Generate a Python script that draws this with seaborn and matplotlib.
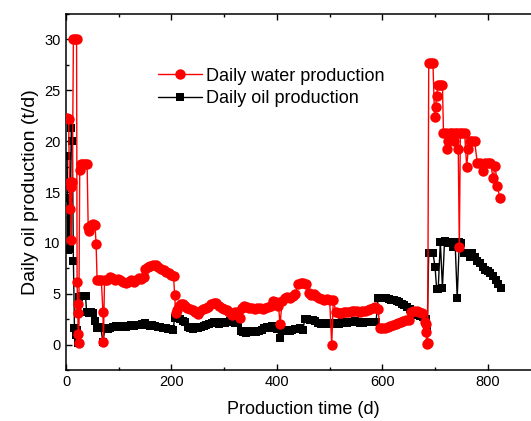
import matplotlib
matplotlib.use("Agg")
import matplotlib.pyplot as plt
import seaborn as sns
import pandas as pd
from matplotlib.ticker import MultipleLocator

# ---- data ----
water_days = [2, 5, 7, 8, 9, 10, 12, 14, 17, 20, 21, 22, 22.5, 23, 24, 26, 28, 32, 36, 40,
              42, 44, 47, 51, 55, 57, 59, 63, 67, 70, 71, 73, 78, 83, 88, 93, 98, 103, 108,
              113, 118, 123, 128, 133, 138, 143, 148, 150, 155, 160, 165, 170, 175, 180, 185,
              190, 195, 200, 204, 206, 208, 210, 214, 218, 222, 226, 230, 235, 240, 245, 250,
              255, 260, 265, 270, 275, 280, 285, 290, 295, 300, 305, 310, 315, 321, 326, 330,
              334, 338, 343, 348, 353, 358, 363, 368, 373, 378, 383, 388, 393, 398, 403, 406,
              410, 415, 420, 425, 430, 435, 440, 445, 450, 455, 460, 465, 470, 475, 480, 485,
              490, 495, 500, 504, 507, 512, 517, 522, 527, 532, 537, 542, 547, 552, 557, 562,
              567, 572, 577, 582, 587, 592, 595, 600, 605, 610, 615, 620, 625, 630, 635, 640,
              645, 650, 655, 660, 665, 670, 675, 680, 682, 683, 684, 686, 688, 692, 696, 699,
              701, 703, 705, 710, 714, 716, 720, 722, 724, 728, 732, 735, 738, 742, 744, 746,
              748, 752, 756, 760, 763, 766, 770, 775, 780, 785, 790, 795, 800, 805, 810, 814,
              818, 823]
water_vals = [22.3, 22.2, 13.3, 16.0, 15.5, 10.3, 16.0, 30.0, 30.0, 30.0, 6.2, 3.1, 4.0, 1.0,
              0.2, 17.2, 17.8, 17.8, 17.8, 17.8, 11.6, 11.2, 11.8, 11.9, 11.8, 9.9, 6.3, 6.3,
              6.3, 3.2, 0.3, 6.3, 6.3, 6.6, 6.5, 6.3, 6.4, 6.3, 6.2, 6.1, 6.2, 6.3, 6.2, 6.3,
              6.5, 6.4, 6.6, 7.4, 7.6, 7.7, 7.8, 7.8, 7.6, 7.4, 7.3, 7.1, 7.0, 6.8, 6.7, 4.9,
              3.1, 3.4, 3.8, 4.0, 4.0, 3.8, 3.6, 3.5, 3.4, 3.2, 3.0, 3.3, 3.5, 3.6, 3.7, 4.0,
              4.1, 4.1, 3.8, 3.6, 3.5, 3.4, 3.2, 2.9, 3.2, 3.2, 2.6, 3.6, 3.8, 3.7, 3.6, 3.6,
              3.5, 3.6, 3.6, 3.5, 3.6, 3.7, 3.8, 4.3, 4.2, 3.8, 2.0, 4.3, 4.6, 4.7, 4.6, 4.8,
              5.0, 6.0, 6.1, 6.1, 6.0, 5.1, 4.9, 5.0, 4.8, 4.6, 4.5, 4.4, 4.5, 4.4, 0.0, 4.4,
              3.2, 3.1, 3.1, 3.2, 3.2, 3.2, 3.3, 3.3, 3.3, 3.2, 3.3, 3.3, 3.4, 3.5, 3.6, 3.7,
              3.5, 1.6, 1.6, 1.6, 1.7, 1.8, 1.9, 2.0, 2.1, 2.2, 2.3, 2.4, 2.4, 3.2, 3.3, 3.3,
              3.2, 3.1, 2.2, 2.0, 1.2, 0.1, 0.2, 27.7, 27.7, 27.7, 22.4, 23.4, 24.4, 25.5, 25.5,
              25.5, 20.8, 20.8, 19.2, 20.0, 20.8, 20.8, 20.0, 20.8, 20.8, 19.2, 9.6, 20.8, 20.8,
              20.8, 17.5, 19.2, 20.0, 20.0, 20.0, 17.9, 17.9, 17.1, 17.9, 17.9, 17.9, 16.4,
              17.6, 15.6, 14.4]

oil_days = [2, 4, 5, 7, 10, 12, 14, 16, 18, 21, 23, 25, 29, 33, 37, 39, 43, 47, 51, 55, 58,
            62, 66, 70, 74, 79, 84, 89, 94, 99, 104, 109, 114, 119, 124, 129, 134, 139, 144,
            149, 154, 159, 164, 169, 174, 179, 184, 189, 194, 199, 203, 206, 211, 216, 221,
            226, 231, 236, 241, 246, 251, 256, 261, 266, 271, 276, 281, 286, 291, 296, 301,
            306, 311, 316, 321, 326, 331, 336, 341, 346, 351, 356, 361, 366, 371, 376, 381,
            386, 391, 396, 401, 405, 409, 414, 419, 424, 429, 434, 439, 444, 449, 453, 458,
            463, 468, 473, 478, 483, 488, 493, 498, 503, 508, 513, 518, 523, 528, 533, 538,
            543, 548, 553, 558, 563, 568, 573, 578, 583, 588, 592, 597, 602, 607, 612, 617,
            622, 627, 632, 637, 642, 647, 652, 657, 662, 667, 672, 677, 682, 685, 688, 692,
            696, 700, 703, 706, 710, 714, 718, 722, 726, 730, 734, 738, 742, 746, 750, 754,
            758, 762, 766, 770, 775, 780, 785, 790, 795, 800, 805, 810, 815, 820, 825]
oil_vals = [18.5, 9.3, 14.4, 9.4, 21.3, 20.0, 8.2, 1.6, 0.9, 1.4, 0.2, 4.7, 4.8, 4.8, 4.8,
            3.2, 3.1, 3.2, 3.1, 2.3, 1.6, 1.7, 1.6, 0.3, 1.6, 1.5, 1.6, 1.7, 1.8, 1.7, 1.8,
            1.8, 1.7, 1.8, 1.9, 1.8, 1.9, 1.9, 2.0, 2.1, 1.9, 1.8, 1.9, 1.8, 1.7, 1.7, 1.6,
            1.6, 1.5, 1.5, 1.4, 2.6, 2.6, 2.5, 2.3, 2.2, 1.7, 1.6, 1.5, 1.7, 1.6, 1.7, 1.8,
            1.9, 2.0, 2.1, 2.2, 2.1, 2.0, 2.2, 2.1, 2.2, 2.3, 2.2, 2.1, 2.1, 1.3, 1.2, 1.1,
            1.3, 1.2, 1.3, 1.2, 1.3, 1.4, 1.6, 1.7, 1.6, 1.8, 1.7, 1.5, 0.6, 1.3, 1.3, 1.4,
            1.3, 1.4, 1.5, 1.5, 1.6, 1.4, 2.5, 2.5, 2.4, 2.4, 2.3, 2.1, 2.0, 2.0, 2.1, 2.0,
            2.0, 2.1, 2.1, 2.0, 2.2, 2.2, 2.1, 2.2, 2.2, 2.3, 2.2, 2.1, 2.1, 2.2, 2.2, 2.2,
            2.2, 2.2, 4.6, 4.6, 4.6, 4.6, 4.5, 4.4, 4.4, 4.3, 4.2, 4.0, 3.9, 3.7, 3.5, 3.0,
            2.9, 2.9, 2.8, 2.7, 2.5, 1.7, 9.0, 9.0, 9.0, 7.6, 5.5, 5.5, 10.1, 5.6, 10.2, 10.1,
            10.0, 10.1, 9.6, 10.1, 4.6, 10.1, 10.0, 9.0, 9.0, 9.0, 8.6, 9.0, 8.6, 8.2, 8.0,
            7.6, 7.3, 7.2, 7.0, 6.7, 6.3, 6.0, 5.6]

water_label = "Daily water production"
oil_label = "Daily oil production"
x_label = "Production time (d)"
y_label = "Daily oil production (t/d)"

water_df = pd.DataFrame({"day": water_days, "value": water_vals})
oil_df = pd.DataFrame({"day": oil_days, "value": oil_vals})

sns.set_theme(style="ticks")
plt.rcParams["font.family"] = ["Liberation Sans", "DejaVu Sans"]
plt.rcParams["text.color"] = "black"
plt.rcParams["axes.labelcolor"] = "black"

fig = plt.figure(figsize=(5.31, 4.21), dpi=100)
# axes extend past the right edge of the picture, as in the reference
ax = fig.add_axes([65.5 / 531, 51 / 421, 475 / 531, 356 / 421])

sns.lineplot(data=oil_df, x="day", y="value", ax=ax, sort=False, estimator=None,
             color="black", marker="s", markersize=6, markeredgewidth=0,
             linewidth=1.0, label=oil_label, zorder=2)
sns.lineplot(data=water_df, x="day", y="value", ax=ax, sort=False, estimator=None,
             color="red", marker="o", markersize=7.5, markeredgewidth=0,
             linewidth=1.0, label=water_label, zorder=3)

ax.set_xlim(-1, 900)
ax.set_ylim(-2.5, 32.5)
ax.xaxis.set_major_locator(MultipleLocator(200))
ax.xaxis.set_minor_locator(MultipleLocator(100))
ax.yaxis.set_major_locator(MultipleLocator(5))
ax.yaxis.set_minor_locator(MultipleLocator(2.5))
ax.tick_params(which="both", direction="in", top=True, right=True, labelsize=10.5,
               colors="black", width=1)
ax.tick_params(which="major", length=4.5)
ax.tick_params(which="minor", length=2.5)
for s in ax.spines.values():
    s.set_linewidth(1.1)
    s.set_color("black")

ax.set_xlabel(x_label, fontsize=13, labelpad=9, color="black")
ax.set_ylabel(y_label, fontsize=14, labelpad=4, color="black")

handles, labels = ax.get_legend_handles_labels()
order = [labels.index(water_label), labels.index(oil_label)]
leg = ax.legend([handles[i] for i in order], [labels[i] for i in order],
                loc="upper left", bbox_to_anchor=(0.18, 0.87), frameon=False,
                fontsize=13, handlelength=2.4, handletextpad=0.25, labelspacing=0.3,
                borderaxespad=0)
for t in leg.get_texts():
    t.set_color("black")

fig.savefig("out.png", dpi=100)
